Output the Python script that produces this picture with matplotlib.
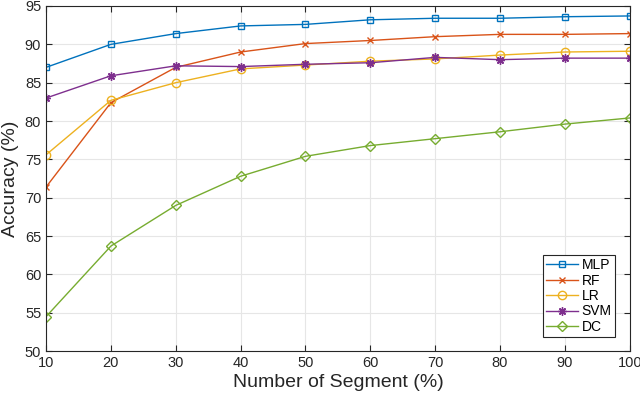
import numpy as np
import matplotlib.pyplot as plt

plt.rcParams['font.family'] = ['Liberation Sans', 'DejaVu Sans']

segments = [10, 20, 30, 40, 50, 60, 70, 80, 90, 100]
mlp = [87.0, 90.0, 91.4, 92.4, 92.6, 93.2, 93.4, 93.4, 93.6, 93.7]
rf = [71.4, 82.4, 87.0, 89.0, 90.1, 90.5, 91.0, 91.3, 91.3, 91.4]
lr = [75.6, 82.7, 85.0, 86.8, 87.3, 87.8, 88.1, 88.6, 89.0, 89.1]
svm = [83.0, 85.9, 87.2, 87.1, 87.4, 87.6, 88.3, 88.0, 88.2, 88.2]
dc = [54.5, 63.7, 69.0, 72.8, 75.4, 76.8, 77.7, 78.6, 79.6, 80.4]

# name, values, colour, marker, marker size
series = [
    ("MLP", mlp, (0, 0.447, 0.741), 's', 4.5),
    ("RF", rf, (0.85, 0.325, 0.098), 'x', 5),
    ("LR", lr, (0.929, 0.694, 0.125), 'o', 6),
    ("SVM", svm, (0.494, 0.184, 0.556), (8, 2, 0), 6),
    ("DC", dc, (0.466, 0.674, 0.188), 'D', 5),
]

fig = plt.figure(figsize=(6.4, 3.99), dpi=100)
ax = fig.add_axes([0.072, 0.12, 0.912, 0.865])

for name, vals, col, mk, ms in series:
    ax.plot(segments, vals, color=col, marker=mk, markersize=ms,
            markerfacecolor='none', markeredgecolor=col, markeredgewidth=1.0,
            linewidth=1.0, label=name)

ax.set_xlim(10, 100)
ax.set_ylim(50, 95)
ax.set_xticks(segments)
ax.set_yticks(np.arange(50, 96, 5))
ax.grid(True, color='#e6e6e6', linewidth=0.8)
ax.set_axisbelow(True)
ax.tick_params(direction='in', labelsize=10.5, length=4, top=True, right=True,
               colors='#262626')
for sp in ax.spines.values():
    sp.set_color('#262626')
    sp.set_linewidth(0.8)

ax.set_xlabel("Number of Segment (%)", fontsize=14, color='#262626', labelpad=3)
ax.set_ylabel("Accuracy (%)", fontsize=14, color='#262626', labelpad=4)

leg = ax.legend(loc='lower right', bbox_to_anchor=(0.975, 0.04), fontsize=10,
                fancybox=False, edgecolor='#262626', framealpha=1,
                handlelength=2.3, borderpad=0.25, labelspacing=0.1,
                handletextpad=0.25, borderaxespad=0)
leg.get_frame().set_linewidth(0.8)

fig.savefig("out.png", dpi=100)
